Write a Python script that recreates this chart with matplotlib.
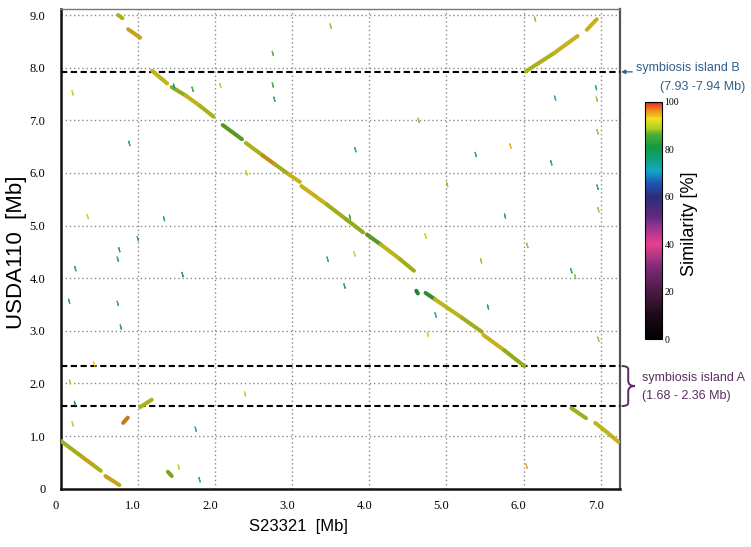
import numpy as np
import matplotlib
matplotlib.use("Agg")
import matplotlib.pyplot as plt
from matplotlib.colors import LinearSegmentedColormap, Normalize
from matplotlib.collections import LineCollection
from matplotlib.cm import ScalarMappable
from matplotlib.path import Path
from matplotlib.patches import PathPatch
import matplotlib.transforms as mtransforms

# ---------------- data ----------------
# long alignment blocks: start (x0, y0), end (x1, y1), similarity [%]
seg_x0 = [0.00, 0.30, 0.42, 0.58, 0.81, 1.03, 1.39, 0.745, 0.875, 1.185,
          1.44, 1.62, 1.80, 2.10, 2.40, 2.62, 2.78, 2.96, 3.12, 3.45,
          3.70, 3.97, 4.15, 4.40, 4.61, 4.73, 4.85, 5.20, 5.48, 5.75,
          6.03, 6.40, 6.82, 6.62, 6.93, 7.10]
seg_y0 = [0.91, 0.58, 0.45, 0.24, 1.25, 1.55, 0.32, 9.00, 8.73, 7.94,
          7.63, 7.47, 7.28, 6.91, 6.57, 6.33, 6.16, 5.97, 5.75, 5.40,
          5.12, 4.83, 4.64, 4.36, 3.76, 3.72, 3.60, 3.25, 2.92, 2.63,
          7.93, 8.28, 8.72, 1.53, 1.25, 1.05]
seg_x1 = [0.30, 0.42, 0.52, 0.76, 0.87, 1.18, 1.44, 0.80, 1.03, 1.38,
          1.62, 1.80, 1.98, 2.35, 2.62, 2.78, 2.96, 3.10, 3.45, 3.70,
          3.92, 4.15, 4.40, 4.58, 4.63, 4.85, 5.20, 5.46, 5.75, 6.01,
          6.40, 6.70, 6.95, 6.81, 7.10, 7.23]
seg_y1 = [0.58, 0.45, 0.34, 0.07, 1.35, 1.69, 0.24, 8.94, 8.57, 7.70,
          7.47, 7.28, 7.07, 6.64, 6.33, 6.16, 5.97, 5.83, 5.40, 5.12,
          4.87, 4.64, 4.36, 4.14, 3.71, 3.60, 3.25, 2.98, 2.63, 2.33,
          8.28, 8.60, 8.92, 1.34, 1.05, 0.89]
seg_sim = [90, 94, 91, 94, 96, 91, 88, 91, 94, 92,
           89, 93, 91, 87, 91, 95, 90, 93, 93, 90,
           89, 87, 92, 90, 83, 85, 92, 90, 93, 89,
           91, 93, 93, 90, 92, 93]

# short matches: centre x, centre y, similarity [%]
dot_x = [0.185, 0.155, 0.12, 0.435, 2.39, 1.53, 1.75, 1.80, 0.155, 0.89,
         0.35, 1.00, 0.76, 0.74, 0.19, 0.11, 0.74, 0.78, 1.34, 1.58,
         1.71, 1.47, 2.75, 2.75, 2.77, 2.07, 3.50, 3.82, 2.41, 4.64,
         5.38, 5.83, 6.36, 6.96, 6.97, 5.01, 5.76, 3.75, 4.73, 6.05,
         3.81, 3.46, 5.45, 6.62, 6.67, 3.68, 5.54, 4.86, 4.76, 6.97,
         6.96, 6.15, 6.04, 6.94, 6.41, 6.95]
dot_y = [1.62, 1.23, 2.03, 2.37, 1.80, 0.41, 1.13, 0.17, 7.52, 6.56,
         5.17, 4.75, 4.54, 4.36, 4.18, 3.56, 3.52, 3.07, 5.13, 4.07,
         7.59, 7.65, 8.27, 7.67, 7.40, 7.66, 8.79, 6.44, 6.00, 7.00,
         6.35, 6.51, 6.19, 5.73, 5.30, 5.78, 5.18, 5.16, 4.80, 4.62,
         4.46, 4.36, 4.33, 4.14, 4.03, 3.85, 3.45, 3.30, 2.93, 2.84,
         6.78, 8.92, 0.43, 7.62, 7.42, 7.40]
dot_sim = [80, 90, 90, 93, 90, 90, 70, 70, 90, 76,
           91, 76, 80, 76, 76, 76, 76, 80, 76, 80,
           84, 76, 86, 84, 76, 90, 88, 76, 90, 88,
           76, 95, 76, 76, 88, 88, 76, 82, 90, 88,
           91, 76, 88, 76, 88, 80, 76, 76, 91, 88,
           88, 88, 95, 76, 72, 88]

island_b = [7.92]
island_a = [2.33, 1.57]

x_ticks = [0, 1, 2, 3, 4, 5, 6, 7]
x_tick_labels = ["0", "1.0", "2.0", "3.0", "4.0", "5.0", "6.0", "7.0"]
y_ticks = [0, 1, 2, 3, 4, 5, 6, 7, 8, 9]
y_tick_labels = ["0", "1.0", "2.0", "3.0", "4.0", "5.0", "6.0", "7.0", "8.0", "9.0"]
cbar_ticks = [0, 20, 40, 60, 80, 100]

# ---------------- colormap ----------------
cm_pos = [0.0, 0.10, 0.20, 0.30, 0.40, 0.46, 0.52, 0.60, 0.66, 0.71,
          0.76, 0.81, 0.86, 0.89, 0.93, 0.965, 1.0]
cm_col = ["#000000", "#1e0a18", "#4a1a45", "#7a2a78", "#e8408c", "#a83590",
          "#5e2a80", "#2c2e78", "#1f55b5", "#10a8c8", "#0fa27a", "#129a45",
          "#4aac35", "#b0d020", "#f2e020", "#f08a20", "#e82020"]
cmap = LinearSegmentedColormap.from_list("sim", list(zip(cm_pos, cm_col)))
norm = Normalize(0, 100)


def muted(vals, f=0.82):
    c = cmap(norm(np.asarray(vals, dtype=float)))
    c[:, :3] = c[:, :3] * f
    return c


# ---------------- figure ----------------
fig = plt.figure(figsize=(7.51, 5.47), dpi=100)
ax = fig.add_axes([0.0808, 0.1066, 0.7447, 0.8775])
ax.set_xlim(0, 7.25)
ax.set_ylim(0, 9.12)

ax.set_axisbelow(True)
ax.grid(True, linestyle=(0, (1, 2)), color="#8a8a8a", lw=1.0)

for yv in island_b + island_a:
    ax.axhline(yv, color="black", lw=1.5, dashes=(3.0, 1.7), zorder=3)

segs = [[(a, b), (c, d)] for a, b, c, d in zip(seg_x0, seg_y0, seg_x1, seg_y1)]
lc = LineCollection(segs, colors=muted(seg_sim), linewidths=2.9,
                    capstyle="round", zorder=4)
ax.add_collection(lc)

ax.scatter(dot_x, dot_y, c=muted(dot_sim, 0.95), marker=(2, 2, 15),
           s=10, linewidths=0.9, alpha=0.85, zorder=4)

ax.set_xticks(x_ticks)
ax.set_xticklabels(x_tick_labels)
ax.set_yticks(y_ticks)
ax.set_yticklabels(y_tick_labels)
ax.tick_params(length=0, labelsize=9, pad=8)
ax.tick_params(axis="y", pad=11)
for lab in ax.get_xticklabels() + ax.get_yticklabels():
    lab.set_family("Liberation Serif")
offset = mtransforms.ScaledTranslation(-5 / 100, 0, fig.dpi_scale_trans)
for lab in ax.get_xticklabels():
    lab.set_transform(lab.get_transform() + offset)

for s in ["left", "bottom"]:
    ax.spines[s].set_linewidth(1.8)
    ax.spines[s].set_color("#111111")
ax.spines["top"].set_linewidth(1.0)
ax.spines["top"].set_color("#777777")
ax.spines["right"].set_linewidth(1.6)
ax.spines["right"].set_color("#555555")

fig.text(298 / 751, 1 - 527 / 547, "S23321  [Mb]", family="Liberation Sans",
         fontsize=12, ha="center", va="center")
fig.text(17 / 751, 1 - 252 / 547, "USDA110  [Mb]", family="Liberation Sans",
         fontsize=16, ha="center", va="center", rotation=90)

# annotations on the right
blend = mtransforms.blended_transform_factory(ax.transAxes, ax.transData)
col_b = "#2f5f8c"
col_a = "#5b2d60"
ax.annotate("", xy=(1.002, island_b[0]), xycoords=blend,
            xytext=(1.022, island_b[0]), textcoords=blend,
            arrowprops=dict(arrowstyle="-|>", color=col_b, lw=0.9,
                            mutation_scale=6, shrinkA=0, shrinkB=0))
ax.text(1.0286, 7.99, "symbiosis island B", transform=blend, color=col_b,
        family="Liberation Sans", fontsize=9, ha="left", va="center")
ax.text(1.0715, 7.63, "(7.93 -7.94 Mb)", transform=blend, color=col_b,
        family="Liberation Sans", fontsize=9, ha="left", va="center")

ya_top, ya_bot = island_a
ymid = (ya_top + ya_bot) / 2
x0b, x1b, x2b = 1.003, 1.0148, 1.0268
verts = [(x0b, ya_top), (x1b, ya_top), (x1b, ya_top - 0.06),
         (x1b, ymid + 0.1), (x1b, ymid), (x2b, ymid),
         (x1b, ymid), (x1b, ymid - 0.1),
         (x1b, ya_bot + 0.06), (x1b, ya_bot), (x0b, ya_bot)]
codes = [Path.MOVETO, Path.CURVE3, Path.CURVE3, Path.LINETO, Path.CURVE3, Path.CURVE3,
         Path.CURVE3, Path.CURVE3, Path.LINETO, Path.CURVE3, Path.CURVE3]
brace = PathPatch(Path(verts, codes), transform=blend, fill=False, edgecolor=col_a,
                  lw=1.4, clip_on=False)
ax.add_patch(brace)
ax.text(1.0387, 2.10, "symbiosis island A", transform=blend, color=col_a,
        family="Liberation Sans", fontsize=9, ha="left", va="center")
ax.text(1.0387, 1.76, "(1.68 - 2.36 Mb)", transform=blend, color=col_a,
        family="Liberation Sans", fontsize=9, ha="left", va="center")

# colorbar
cax = fig.add_axes([645 / 751, 1 - 339.3 / 547, 16.7 / 751, 237.6 / 547])
cb = fig.colorbar(ScalarMappable(norm=norm, cmap=cmap), cax=cax)
cb.set_ticks(cbar_ticks)
cb.ax.tick_params(length=0, labelsize=7, pad=2)
for lab in cb.ax.get_yticklabels():
    lab.set_family("Liberation Serif")
cb.outline.set_linewidth(0.8)
fig.text(690 / 751, 1 - 224 / 547, "Similarity [%]", family="Liberation Sans",
         fontsize=13, ha="center", va="center", rotation=90)

fig.savefig("out.png", dpi=100)
